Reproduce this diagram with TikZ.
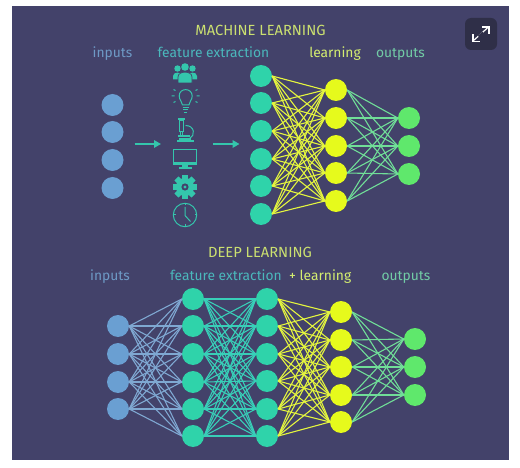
\documentclass[tikz,border=0pt]{standalone}
\usepackage{fontspec}
\usetikzlibrary{arrows.meta}
\setmainfont{Fira Sans}
\definecolor{bgc}{HTML}{43426A}
\definecolor{bluec}{HTML}{6A9FD2}
\definecolor{tealc}{HTML}{2FD3AA}
\definecolor{yelc}{HTML}{E6FA1C}
\definecolor{grnc}{HTML}{5FE86C}
\definecolor{lblue}{HTML}{7FA8D2}
\definecolor{lteal}{HTML}{38CFB8}
\definecolor{lyel}{HTML}{E4F53E}
\definecolor{lgrn}{HTML}{70DE98}
\definecolor{tinput}{HTML}{6E9AC6}
\definecolor{tfeat}{HTML}{4BB8BC}
\definecolor{tlearn}{HTML}{D4EE70}
\definecolor{tout}{HTML}{72CCA6}
\definecolor{ttitle}{HTML}{CBE070}
\definecolor{icont}{HTML}{34C6AC}
\definecolor{btn}{HTML}{2F2F48}
\tikzset{
  neuron/.style={circle,inner sep=0pt,minimum size=22pt,fill=#1},
  label text/.style={text=#1,font=\fontsize{13.8}{15}\selectfont,inner sep=0pt,anchor=base},
  title text/.style={text=#1,font=\fontsize{14.7}{16}\selectfont,inner sep=0pt,anchor=base},
  edge/.style={draw=#1,line width=1.1pt},
  flow/.style={draw=icont,fill=icont,line width=1.6pt,-{Triangle[length=7pt,width=7.5pt]}},
  icon/.style={draw=icont,line width=1pt,fill=none}
}
\newcommand{\layer}[4]{\foreach \yy [count=\i] in {#3} {\node[neuron=#4] (#1\i) at (#2,\yy) {};}}
\newcommand{\connect}[5]{\foreach \i in {1,...,#2} {\foreach \j in {1,...,#4} {\draw[edge=#5] (#1\i.east) -- (#3\j.west);}}}
\begin{document}
\begin{tikzpicture}[x=1pt,y=-1pt]
\useasboundingbox (0,0) rectangle (520,468);
\fill[white] (0,0) rectangle (520,468);
\fill[bgc] (12,6) rectangle (509,460);
% top network
\layer{a}{112.5}{105,132,160,188}{bluec}
\layer{b}{261}{76,103,131,159,186,214}{tealc}
\layer{c}{336}{90,118,146,173,201}{yelc}
\layer{d}{409}{118,146,174}{grnc}
\connect{b}{6}{c}{5}{lyel}
\connect{c}{5}{d}{3}{lgrn}
% bottom network
\layer{e}{118}{326,354,382,409}{bluec}
\layer{f}{193}{299,326,354,382,409,436}{tealc}
\layer{g}{267}{299,326,354,381,409,436}{tealc}
\layer{h}{341}{312,340,367,395,422}{yelc}
\layer{k}{415}{339,367,395}{grnc}
\connect{e}{4}{f}{6}{lblue}
\connect{f}{6}{g}{6}{lteal}
\connect{g}{6}{h}{5}{lyel}
\connect{h}{5}{k}{3}{lgrn}
% labels
\node[title text=ttitle] (t1) at (260.5,36) {MACHINE LEARNING};
\node[label text=tinput] (t2) at (112.5,58) {inputs};
\node[label text=tfeat] (t3) at (213.5,58) {feature extraction};
\node[label text=tlearn] (t4) at (335,58) {learning};
\node[label text=tout] (t5) at (400.5,58) {outputs};
\node[title text=ttitle] (t6) at (260,258) {DEEP LEARNING};
\node[label text=tinput] (t7) at (110,280) {inputs};
\node[label text=tfeat] (t8) at (226,280) {feature extraction};
\node[label text=tlearn,anchor=base west] (t10) at (289,280) {+ learning};
\node[label text=tout] (t11) at (406,280) {outputs};
% arrows
\coordinate (p1) at (134.5,144);
\coordinate (p2) at (161,144);
\coordinate (p3) at (213,144);
\coordinate (p4) at (239.5,144);
\draw[flow] (p1) -- (p2);
\draw[flow] (p3) -- (p4);
% people
\fill[icont] (185,67) circle (3.8);
\fill[icont] (177.5,68.5) circle (3.2);
\fill[icont] (192.5,68.5) circle (3.2);
\fill[icont] (173,79.5) -- (173,76) .. controls (173,71.5) and (182,71.5) .. (182,76) -- (182,79.5) -- cycle;
\fill[icont] (188,79.5) -- (188,76) .. controls (188,71.5) and (197,71.5) .. (197,76) -- (197,79.5) -- cycle;
\fill[icont,draw=bgc,line width=0.7pt] (178,83) -- (178,77) .. controls (178,70.5) and (192,70.5) .. (192,77) -- (192,83) -- cycle;
% bulb
\draw[icon] (182.5,105) .. controls (182.5,101.5) and (179.2,100.5) .. (179.2,96) .. controls (179.2,87.5) and (192.2,87.5) .. (192.2,96) .. controls (192.2,100.5) and (188.9,101.5) .. (188.9,105) -- cycle;
\draw[icon] (182.7,107.5) -- (188.7,107.5);
\draw[icon] (183,110) -- (188.4,110);
\draw[icon] (184,112.3) -- (187.4,112.3);
\draw[icon] (175.5,90.5) -- (173.5,89.5) (195.5,90.5) -- (197.5,89.5) (174.5,96) -- (171.5,96) (196.5,96) -- (199.5,96) (175.5,101.5) -- (173.5,102.5) (195.5,101.5) -- (197.5,102.5);
% microscope
\draw[icon] (179.2,120.5) rectangle (183.8,132);
\draw[icon,line width=1.3pt] (178,119) -- (185,119);
\draw[icon] (185.5,125.5) .. controls (195,125.5) and (195.5,136) .. (189.5,138.5);
\draw[icon] (180.5,132) -- (180.5,135) (182.5,132) -- (182.5,135);
\fill[icont] (178,135.5) rectangle (190,137.3);
\fill[icont] (179,138) rectangle (191,140);
\draw[icon,line width=1.3pt] (177,141) -- (193.5,141);
% monitor
\draw[icon,line width=1.4pt] (173.7,149.5) rectangle (196.3,163);
\fill[icont] (173,162) rectangle (197,165.5);
\fill[icont] (182,165.5) rectangle (188,168);
\fill[icont] (178.5,167.5) rectangle (191.5,169);
% gear
\foreach \a in {0,45,...,315} {\fill[icont,rotate around={\a:(185,187)}] (182.3,175) rectangle (187.7,199);}
\fill[icont] (185,187) circle (9);
\fill[bgc] (185,187) circle (3.6);
\fill[icont] (185,187) circle (1.6);
% clock
\draw[icon] (185,215) circle (11.7);
\draw[icon] (185,207) -- (185,215.5) -- (190.5,221.5);
\draw[icon] (185,203.3) -- (185,205.5) (185,224.5) -- (185,226.7) (173.3,215) -- (175.5,215) (194.5,215) -- (196.7,215);
% expand button
\fill[btn,rounded corners=6pt] (465,18) rectangle (497,50);
\draw[white,line width=1.2pt] (473,41) -- (488.5,27);
\draw[white,line width=1.2pt] (482,27) -- (489,27) -- (489,34);
\draw[white,line width=1.2pt] (473,34.5) -- (473,41.5) -- (480,41.5);
\draw[btn,line width=2pt] (478.5,36.5) -- (483,32.5);
\end{tikzpicture}
\end{document}
